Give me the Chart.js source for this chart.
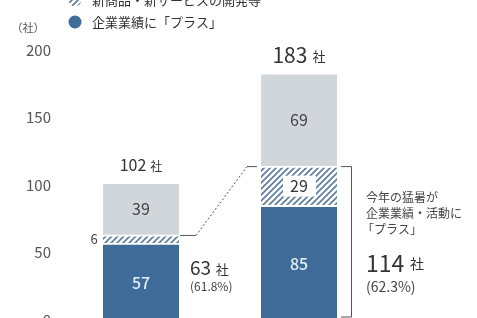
<!DOCTYPE html>
<html lang="ja">
<head>
  <meta charset="UTF-8">
  <title>猛暑と企業業績</title>
  <script src="https://cdn.jsdelivr.net/npm/chart.js@4.4.1/dist/chart.umd.min.js"></script>
  <style>
    html, body {
      margin: 0;
      padding: 0;
      background: #fff;
      overflow: hidden;
    }

    #wrap {
      width: 477px;
      height: 318px;
      overflow: hidden;
    }
  </style>
</head>
<body>
  <div id="wrap">
    <canvas id="heatChart" width="477" height="360"></canvas>
  </div>

  <script>
    const categories = ['前回', '今回'];
    const plusValues = [57, 85];          // 企業業績に「プラス」
    const newBizValues = [6, 29];         // 新商品・新サービスの開発等
    const otherValues = [39, 69];         // その他
    const totals = [102, 183];
    const plusTotals = [63, 114];
    const plusShares = ['61.8%', '62.3%'];
    const yTicks = [0, 50, 100, 150, 200];

    const FONT = '"Noto Sans CJK JP", "Noto Sans", sans-serif';
    const BLUE = '#3f6b98';
    const GRAY = '#d1d6db';
    const TEXT = '#333';

    // diagonal hatch for the middle segment
    function makeHatch() {
      const c = document.createElement('canvas');
      c.width = 6;
      c.height = 6;
      const g = c.getContext('2d');
      g.fillStyle = '#fff';
      g.fillRect(0, 0, 6, 6);
      g.strokeStyle = '#5a7b9e';
      g.lineWidth = 1.6;
      g.beginPath();
      g.moveTo(0, 6); g.lineTo(6, 0);
      g.moveTo(-3, 3); g.lineTo(3, -3);
      g.moveTo(3, 9); g.lineTo(9, 3);
      g.stroke();
      return g.createPattern(c, 'repeat');
    }
    const hatch = makeHatch();

    function drawText(ctx, txt, x, y, size, color, align, weight) {
      ctx.font = (weight || 'normal') + ' ' + size + 'px ' + FONT;
      ctx.fillStyle = color;
      ctx.textAlign = align || 'center';
      ctx.textBaseline = 'middle';
      ctx.fillText(txt, x, y);
    }

    // number + small 社
    function drawCount(ctx, num, unit, x, y, size, unitSize, align) {
      ctx.font = size + 'px ' + FONT;
      const w1 = ctx.measureText(num).width;
      ctx.font = unitSize + 'px ' + FONT;
      const w2 = ctx.measureText(unit).width;
      const gap = size * 0.25;
      let left = x;
      if (align === 'center') left = x - (w1 + gap + w2) / 2;
      drawText(ctx, num, left, y, size, TEXT, 'left');
      drawText(ctx, unit, left + w1 + gap, y + size * 0.05, unitSize, TEXT, 'left');
    }

    const annotations = {
      id: 'annotations',
      afterDatasetsDraw(chart) {
        const ctx = chart.ctx;
        const xs = chart.scales.x;
        const ys = chart.scales.y;
        const meta0 = chart.getDatasetMeta(0);
        const half = meta0.data[0].width / 2;
        ctx.save();

        // legend
        drawText(ctx, chart.data.datasets[1].label, 92, 0, 13, TEXT, 'left');
        ctx.beginPath();
        ctx.arc(75, 0, 6.5, 0, Math.PI * 2);
        ctx.fillStyle = hatch;
        ctx.fill();
        drawText(ctx, chart.data.datasets[0].label, 92, 22, 13, TEXT, 'left');
        ctx.beginPath();
        ctx.arc(75, 22, 6.5, 0, Math.PI * 2);
        ctx.fillStyle = BLUE;
        ctx.fill();
        drawText(ctx, '（社）', 28, 28, 11, '#555', 'center');

        categories.forEach((c, i) => {
          const cx = xs.getPixelForValue(i);
          const yPlusMid = (ys.getPixelForValue(0) + ys.getPixelForValue(plusValues[i])) / 2;
          const yNewMid = (ys.getPixelForValue(plusValues[i]) + ys.getPixelForValue(plusTotals[i])) / 2;
          const yOtherMid = (ys.getPixelForValue(plusTotals[i]) + ys.getPixelForValue(totals[i])) / 2;

          drawText(ctx, String(plusValues[i]), cx, yPlusMid + 1, 16, '#e3eef9', 'center', '500');
          drawText(ctx, String(otherValues[i]), cx, yOtherMid, 16, '#444', 'center');

          if (i === 0) {
            drawText(ctx, String(newBizValues[i]), cx - half - 9, yNewMid, 13, '#444', 'center');
            drawCount(ctx, String(totals[i]), '社', cx, ys.getPixelForValue(totals[i]) - 17, 16, 12, 'center');
          } else {
            ctx.fillStyle = '#fff';
            ctx.fillRect(cx - 16, yNewMid - 10, 33, 21);
            drawText(ctx, String(newBizValues[i]), cx, yNewMid, 16, '#333', 'center');
            drawCount(ctx, String(totals[i]), '社', cx, ys.getPixelForValue(totals[i]) - 18, 21, 13, 'center');
          }
        });

        // first bar: plus total
        const x0 = xs.getPixelForValue(0) + half;
        const x1 = xs.getPixelForValue(1) - half;
        const y63 = ys.getPixelForValue(plusTotals[0]);
        const y114 = ys.getPixelForValue(plusTotals[1]);
        const yBase = ys.getPixelForValue(0);
        drawCount(ctx, String(plusTotals[0]), '社', x0 + 11, 268, 19, 13, 'left');
        drawText(ctx, '(' + plusShares[0] + ')', x0 + 11, 286, 12, '#444', 'left');

        // connector
        ctx.strokeStyle = '#555';
        ctx.lineWidth = 1;
        ctx.beginPath();
        ctx.moveTo(x0 + 1, y63 + 0.5);
        ctx.lineTo(x0 + 17, y63 + 0.5);
        ctx.stroke();
        ctx.setLineDash([2, 2]);
        ctx.beginPath();
        ctx.moveTo(x0 + 17, y63 + 0.5);
        ctx.lineTo(x1 - 14, y114 + 0.5);
        ctx.stroke();
        ctx.setLineDash([]);
        ctx.beginPath();
        ctx.moveTo(x1 - 14, y114 + 0.5);
        ctx.lineTo(x1 - 4, y114 + 0.5);
        ctx.stroke();

        // right bracket
        const xr = xs.getPixelForValue(1) + half;
        ctx.beginPath();
        ctx.moveTo(xr + 4, y114 + 0.5);
        ctx.lineTo(xr + 14.5, y114 + 0.5);
        ctx.lineTo(xr + 14.5, yBase - 3);
        ctx.lineTo(xr + 4, yBase - 3);
        ctx.stroke();

        // side notes
        const tx = xr + 29;
        drawText(ctx, '今年の猛暑が', tx, 197, 12, '#444', 'left');
        drawText(ctx, '企業業績・活動に', tx, 213, 12, '#444', 'left');
        drawText(ctx, '「プラス」', tx - 4, 229, 12, '#444', 'left');
        drawCount(ctx, String(plusTotals[1]), '社', tx, 263, 23, 14, 'left');
        drawText(ctx, '(' + plusShares[1] + ')', tx, 287, 14, '#444', 'left');

        ctx.restore();
      }
    };

    const edge = { top: 2, left: 0, right: 0, bottom: 0 };

    const ctx = document.getElementById('heatChart').getContext('2d');
    new Chart(ctx, {
      type: 'bar',
      data: {
        labels: categories,
        datasets: [
          {
            label: '企業業績に「プラス」',
            data: plusValues,
            backgroundColor: BLUE,
            borderColor: '#fff',
            borderWidth: edge,
            borderSkipped: false,
            barThickness: 76
          },
          {
            label: '新商品・新サービスの開発等',
            data: newBizValues,
            backgroundColor: hatch,
            borderColor: '#fff',
            borderWidth: edge,
            borderSkipped: false,
            barThickness: 76
          },
          {
            label: 'その他',
            data: otherValues,
            backgroundColor: GRAY,
            borderColor: '#fff',
            borderWidth: edge,
            borderSkipped: false,
            barThickness: 76
          }
        ]
      },
      options: {
        responsive: false,
        animation: false,
        layout: {
          padding: { top: 50, right: 99, bottom: 40, left: 0 }
        },
        plugins: {
          legend: { display: false },
          tooltip: { enabled: false }
        },
        scales: {
          x: {
            stacked: true,
            display: false
          },
          y: {
            stacked: true,
            min: 0,
            max: 200,
            afterBuildTicks: s => { s.ticks = yTicks.map(v => ({ value: v })); },
            afterFit: s => { s.width = 62; },
            grid: { display: false, drawTicks: false },
            border: { display: false },
            ticks: {
              padding: 11,
              color: '#555',
              font: { family: FONT, size: 15 }
            }
          }
        }
      },
      plugins: [annotations]
    });
  </script>
</body>
</html>
